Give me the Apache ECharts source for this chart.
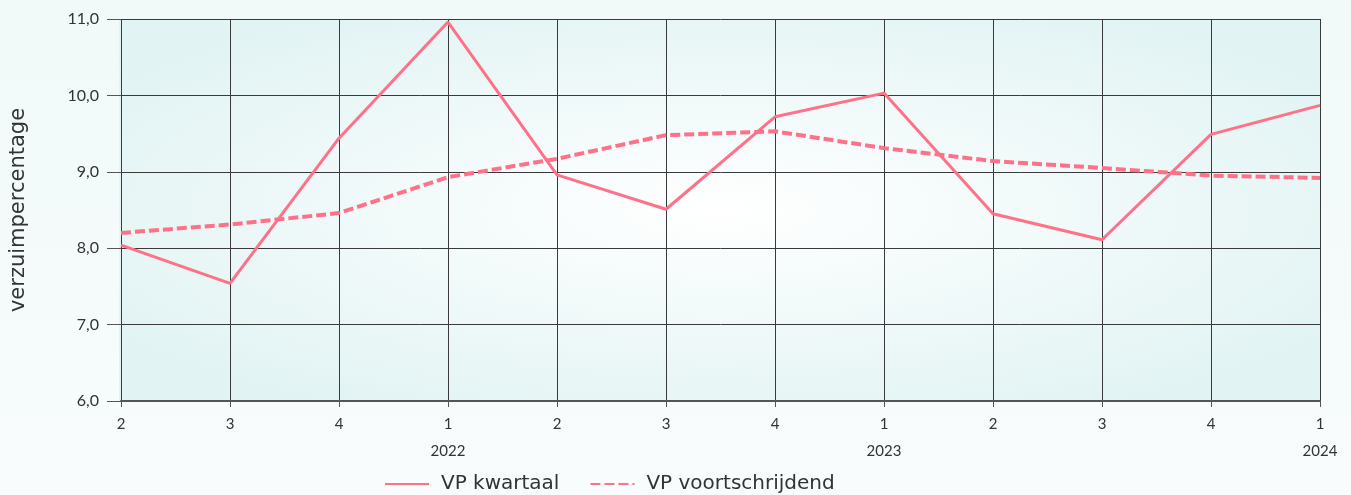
<!DOCTYPE html>
<html><head><meta charset="utf-8">
<script src="https://cdn.jsdelivr.net/npm/echarts@6/dist/echarts.min.js"></script>
<style>html,body{margin:0;padding:0;background:#f4fafa;}#c{width:1351px;height:495px;}</style>
</head><body><div id="c"></div>
<script>
const quarters = ['2','3','4','1','2','3','4','1','2','3','4','1'];
const years    = ['','','','2022','','','','2023','','','','2024'];
const vpKwartaal = [8.04, 7.54, 9.44, 10.96, 8.96, 8.51, 9.72, 10.03, 8.45, 8.11, 9.49, 9.87];
const vpVoortschrijdend = [8.20, 8.31, 8.46, 8.93, 9.17, 9.48, 9.53, 9.31, 9.14, 9.05, 8.95, 8.92];
const yTicks = [6, 7, 8, 9, 10, 11];

const categories = quarters.map((q, i) => q + '|' + years[i]);
const G = {left: 119, top: 19, right: 31, bottom: 94};
const W = 1351, H = 495;
const gw = W - G.left - G.right, gh = H - G.top - G.bottom;
const lineColor = '#ff7189';
const font = 'Lato, "Noto Sans", sans-serif';

const chart = echarts.init(document.getElementById('c'), null, {renderer: 'canvas'});
chart.setOption({
  backgroundColor: {
    type: 'linear', x: 0, y: 0, x2: 0, y2: 1,
    colorStops: [{offset: 0, color: '#f1f9f9'}, {offset: 1, color: '#f8fcfc'}]
  },
  animation: false,
  graphic: [{
    type: 'rect', z: -10, silent: true,
    x: G.left + gw / 2, y: G.top + gh / 2,
    scaleX: gw / gh, scaleY: 1,
    shape: {x: -gh / 2, y: -gh / 2, width: gh, height: gh},
    style: {
      fill: {
        type: 'radial', x: 0.5, y: 0.5, r: 0.62,
        colorStops: [{offset: 0, color: '#ffffff'}, {offset: 1, color: '#e1f3f3'}]
      }
    }
  }],
  grid: {left: G.left, top: G.top, right: G.right, bottom: G.bottom, containLabel: false},
  legend: {
    top: 469, left: 379,
    itemWidth: 44, itemHeight: 12, itemGap: 30,
    itemStyle: {opacity: 0},
    textStyle: {fontSize: 20, color: '#333', fontFamily: '"DejaVu Sans", sans-serif', padding: [0, 0, 0, 7]},
    data: ['VP kwartaal', 'VP voortschrijdend']
  },
  xAxis: {
    type: 'category',
    data: categories,
    boundaryGap: false,
    axisLine: {show: true, lineStyle: {color: '#555', width: 2}},
    axisTick: {show: true, length: 6, lineStyle: {color: '#555'}},
    splitLine: {show: true, lineStyle: {color: '#3a3a3a', width: 1}},
    axisLabel: {
      margin: 10,
      formatter: function (v) {
        const p = v.split('|');
        return '{q|' + p[0] + '}\n{y|' + (p[1] || ' ') + '}';
      },
      rich: {
        q: {fontSize: 15, color: '#333', lineHeight: 27, fontFamily: font},
        y: {fontSize: 15, color: '#333', lineHeight: 27, fontFamily: font}
      }
    }
  },
  yAxis: {
    type: 'value',
    min: yTicks[0], max: yTicks[yTicks.length - 1], interval: 1,
    name: 'verzuimpercentage',
    nameLocation: 'middle', nameRotate: 90, nameGap: 92,
    nameTextStyle: {fontSize: 21, color: '#333', fontFamily: '"DejaVu Sans", sans-serif'},
    axisLine: {show: false},
    axisTick: {show: true, length: 14, lineStyle: {color: '#555'}},
    splitLine: {show: true, lineStyle: {color: '#3a3a3a', width: 1}},
    axisLabel: {
      margin: 22, fontSize: 16, color: '#333', fontFamily: font,
      formatter: v => v.toFixed(1).replace('.', ',')
    }
  },
  series: [{
    name: 'VP kwartaal', type: 'line', data: vpKwartaal,
    symbol: 'none', lineStyle: {color: lineColor, width: 3}, itemStyle: {color: lineColor}
  }, {
    name: 'VP voortschrijdend', type: 'line', data: vpVoortschrijdend,
    symbol: 'none', lineStyle: {color: lineColor, width: 4, type: [10, 4]}, itemStyle: {color: lineColor}
  }]
});
</script></body></html>
